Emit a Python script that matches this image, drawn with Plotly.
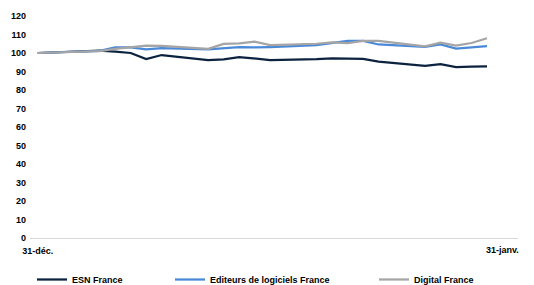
import plotly.graph_objects as go

dates = ["2020-12-31", "2021-01-04", "2021-01-05", "2021-01-06", "2021-01-07", "2021-01-08",
         "2021-01-11", "2021-01-12", "2021-01-13", "2021-01-14", "2021-01-15",
         "2021-01-18", "2021-01-19", "2021-01-20", "2021-01-21", "2021-01-22",
         "2021-01-25", "2021-01-26", "2021-01-27", "2021-01-28", "2021-01-29"]

esn_france = [100, 101.3, 100.8, 100.0, 96.7, 98.9,
              96.2, 96.5, 97.8, 97.0, 96.2,
              96.7, 97.1, 96.9, 96.8, 95.3,
              93.0, 94.0, 92.4, 92.7, 92.8]

editeurs_france = [100, 101.2, 103.0, 103.1, 102.0, 102.6,
                   102.0, 102.5, 103.2, 103.0, 103.2,
                   104.3, 105.2, 106.5, 106.5, 104.6,
                   103.3, 104.6, 102.4, 102.9, 103.7]

digital_france = [100, 101.0, 102.2, 103.0, 104.0, 103.9,
                  102.2, 104.9, 105.2, 106.1, 104.3,
                  105.0, 105.8, 105.3, 106.5, 106.6,
                  103.6, 105.6, 104.0, 105.4, 108.0]

series_names = ["ESN France", "Editeurs de logiciels France", "Digital France"]
colors = ["#0c2340", "#4a89d8", "#a5a5a5"]
legend_ids = ["legend", "legend2", "legend3"]
legend_x_px = [32, 170, 374]

y_tick_vals = list(range(0, 121, 10))
x_tick_vals = ["2020-12-31"]
x_tick_text = ["31-déc."]
last_tick_val = "2021-01-31"
last_tick_text = "31-janv."

FONT = "Arial, Liberation Sans, sans-serif"
W, H = 534, 285
ML, MR, MT, MB = 30, 16, 16, 47
PW, PH = W - ML - MR, H - MT - MB

fig = go.Figure()
for name, vals, col, lid in zip(series_names, [esn_france, editeurs_france, digital_france], colors, legend_ids):
    fig.add_trace(go.Scatter(x=dates, y=vals, mode="lines", name="<b>" + name + "</b>",
                             line=dict(color=col, width=2.25), legend=lid, showlegend=True))

legend_common = dict(orientation="h", xref="paper", yref="paper",
                     yanchor="middle", y=-(279.5 - (H - MB)) / PH,
                     font=dict(family=FONT, size=9, color="#000000"),
                     bgcolor="rgba(0,0,0,0)", itemwidth=30, borderwidth=0)

legends = {}
for lid, px in zip(legend_ids, legend_x_px):
    legends[lid] = dict(legend_common, x=(px - ML) / PW, xanchor="left")

fig.update_layout(
    width=W, height=H,
    showlegend=True,
    margin=dict(l=ML, r=MR, t=MT, b=MB, autoexpand=False),
    paper_bgcolor="white", plot_bgcolor="white",
    font=dict(family=FONT, size=9, color="#000000"),
    xaxis=dict(type="date", range=["2020-12-30 12:00", "2021-01-31"], automargin=False,
               showgrid=False, zeroline=False, showline=True, linecolor="#d9d9d9", linewidth=1,
               ticks="", tickvals=x_tick_vals, ticktext=["<b>" + t + "</b>" for t in x_tick_text],
               ticklabelstandoff=4,
               tickfont=dict(family=FONT, size=9, color="#000000")),
    yaxis=dict(range=[0, 120], automargin=False, showgrid=False, zeroline=False, showline=False,
               ticks="", tickvals=y_tick_vals, ticktext=["<b>%d</b>" % v for v in y_tick_vals],
               ticklabelstandoff=3,
               tickfont=dict(family=FONT, size=9, color="#000000")),
    annotations=[dict(x=last_tick_val, y=0, xref="x", yref="paper", text="<b>" + last_tick_text + "</b>",
                      showarrow=False, xanchor="right", yanchor="top", xshift=3, yshift=-5,
                      font=dict(family=FONT, size=9, color="#000000"))],
    **legends,
)

fig.write_html("out.html", config={"displayModeBar": False},
               post_script="document.body.style.margin='0';document.body.style.padding='0';")
